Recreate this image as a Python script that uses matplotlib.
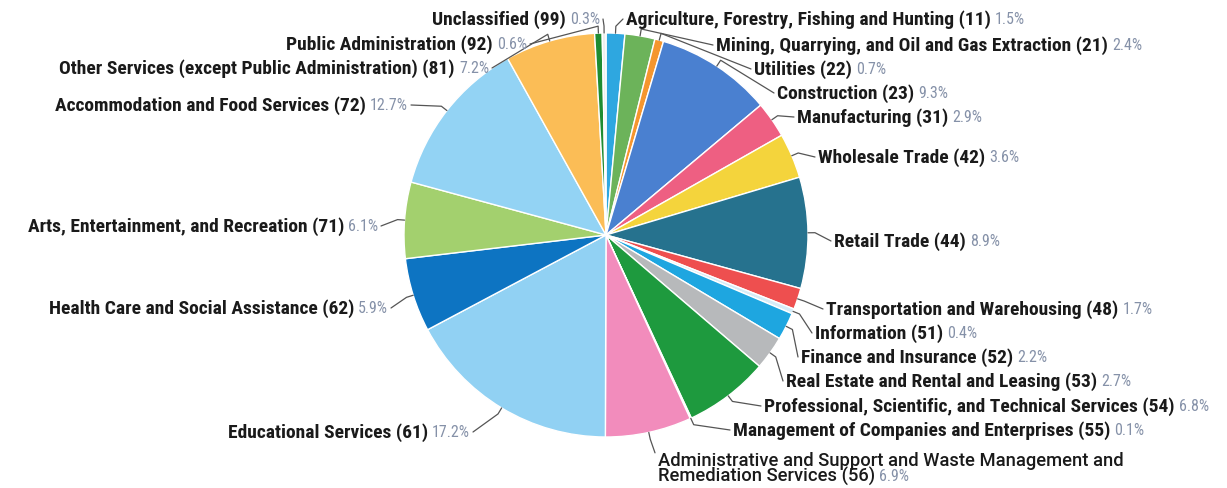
import matplotlib
matplotlib.use("Agg")
import matplotlib.pyplot as plt
import numpy as np

# NAICS sectors, clockwise from 12 o'clock
sectors = [
    "Agriculture, Forestry, Fishing and Hunting (11)",
    "Mining, Quarrying, and Oil and Gas Extraction (21)",
    "Utilities (22)",
    "Construction (23)",
    "Manufacturing (31)",
    "Wholesale Trade (42)",
    "Retail Trade (44)",
    "Transportation and Warehousing (48)",
    "Information (51)",
    "Finance and Insurance (52)",
    "Real Estate and Rental and Leasing (53)",
    "Professional, Scientific, and Technical Services (54)",
    "Management of Companies and Enterprises (55)",
    "Administrative and Support and Waste Management and\nRemediation Services (56)",
    "Educational Services (61)",
    "Health Care and Social Assistance (62)",
    "Arts, Entertainment, and Recreation (71)",
    "Accommodation and Food Services (72)",
    "Other Services (except Public Administration) (81)",
    "Public Administration (92)",
    "Unclassified (99)",
]
shares = [1.5, 2.4, 0.7, 9.3, 2.9, 3.6, 8.9, 1.7, 0.4, 2.2, 2.7, 6.8, 0.1, 6.9,
          17.2, 5.9, 6.1, 12.7, 7.2, 0.6, 0.3]

colors = ["#2ea7e0", "#6cb35a", "#f5962e", "#4a80d0", "#ee5f82", "#f4d43c",
          "#26728e", "#ee4f4f", "#d6ecf7", "#1ea6e0", "#b7b9bb", "#1e9a3e",
          "#e8e8e8", "#f28cbc", "#91d1f3", "#0d74c2", "#a3d06e", "#93d3f4",
          "#fbbd56", "#1f8c32", "#eeeeee"]

# label anchors in pixels from top-left: (x, y, side)
# side 'R' -> text starts at x, side 'L' -> text ends at x
label_pos = [
    (626, 20, "R"), (716, 46, "R"), (754, 70, "R"), (777, 94, "R"),
    (797, 118, "R"), (818, 158, "R"), (834, 242, "R"), (826, 310, "R"),
    (815, 334, "R"), (801, 358, "R"), (786, 382, "R"), (764, 407, "R"),
    (733, 431, "R"), (658, 469, "R"), (470, 433, "L"), (388, 309, "L"),
    (378, 227, "L"), (408, 106, "L"), (489, 69, "L"), (527, 45, "L"),
    (600, 20, "L"),
]

W, H = 1227, 489
CX, CY, R = 606, 236, 202

fonts = ["Roboto Condensed", "Liberation Sans"]
name_kw = dict(family=fonts, fontsize=14, fontweight="bold", color="#1a1a1a")
wrap_kw = dict(family=["Roboto", "Liberation Sans"], fontsize=13.2,
               fontweight="medium", color="#1a1a1a")
pct_kw = dict(family=fonts, fontsize=11.5, color="#8591a8")

fig = plt.figure(figsize=(W / 100, H / 100), dpi=100)
ax = fig.add_axes([0, 0, 1, 1])
ax.set_xlim(0, W)
ax.set_ylim(0, H)
ax.set_aspect("equal")
ax.axis("off")

wedges, _ = ax.pie(shares, colors=colors, startangle=90, counterclock=False,
                   center=(CX, H - CY), radius=R,
                   wedgeprops=dict(edgecolor="white", linewidth=1.0))
ax.set_xlim(0, W)
ax.set_ylim(0, H)

fig.canvas.draw()
renderer = fig.canvas.get_renderer()
inv = ax.transData.inverted()


def text_box(t):
    bb = t.get_window_extent(renderer)
    (x0, y0), (x1, y1) = inv.transform([[bb.x0, bb.y0], [bb.x1, bb.y1]])
    return x0, y0, x1, y1


def text_width(t):
    x0, _, x1, _ = text_box(t)
    return x1 - x0


for w, name, pct, (lx, ly, side) in zip(wedges, sectors, shares, label_pos):
    y = H - ly
    pct_txt = f"{pct}%"
    lines = name.split("\n")
    if side == "R":
        if len(lines) == 2:
            # wrapped label: one two-line text, percent after the last line
            t = ax.text(lx, y, name, ha="left", va="center", linespacing=0.82, **wrap_kw)
            probe = ax.text(lx, y, lines[1], ha="left", va="center", **wrap_kw)
            last_w = text_width(probe)
            _, py0, _, py1 = text_box(probe)
            probe.remove()
            _, by0, _, by1 = text_box(t)
            ty = by0 + (py1 - py0) / 2
            ax.text(lx + last_w + 4, ty, pct_txt, ha="left", va="center", **pct_kw)
            end = (lx - 3, by1 - 2)
        else:
            t = ax.text(lx, y, name, ha="left", va="center", **name_kw)
            ax.text(lx + text_width(t) + 4, y, pct_txt, ha="left", va="center", **pct_kw)
            end = (lx - 3, y)
    else:
        p = ax.text(lx, y, pct_txt, ha="right", va="center", **pct_kw)
        ax.text(lx - text_width(p) - 4, y, name, ha="right", va="center", **name_kw)
        end = (lx + 3, y)

    # leader line from the wedge rim
    mid = np.deg2rad((w.theta1 + w.theta2) / 2)
    ux, uy = np.cos(mid), np.sin(mid)
    cx, cy = w.center
    p0 = (cx + w.r * ux, cy + w.r * uy)
    p1 = (cx + (w.r + 7) * ux, cy + (w.r + 7) * uy)
    ax.plot([p0[0], p1[0], end[0]], [p0[1], p1[1], end[1]],
            color="#555555", lw=0.9, solid_capstyle="round")

fig.savefig("out.png", dpi=100, facecolor="white")
